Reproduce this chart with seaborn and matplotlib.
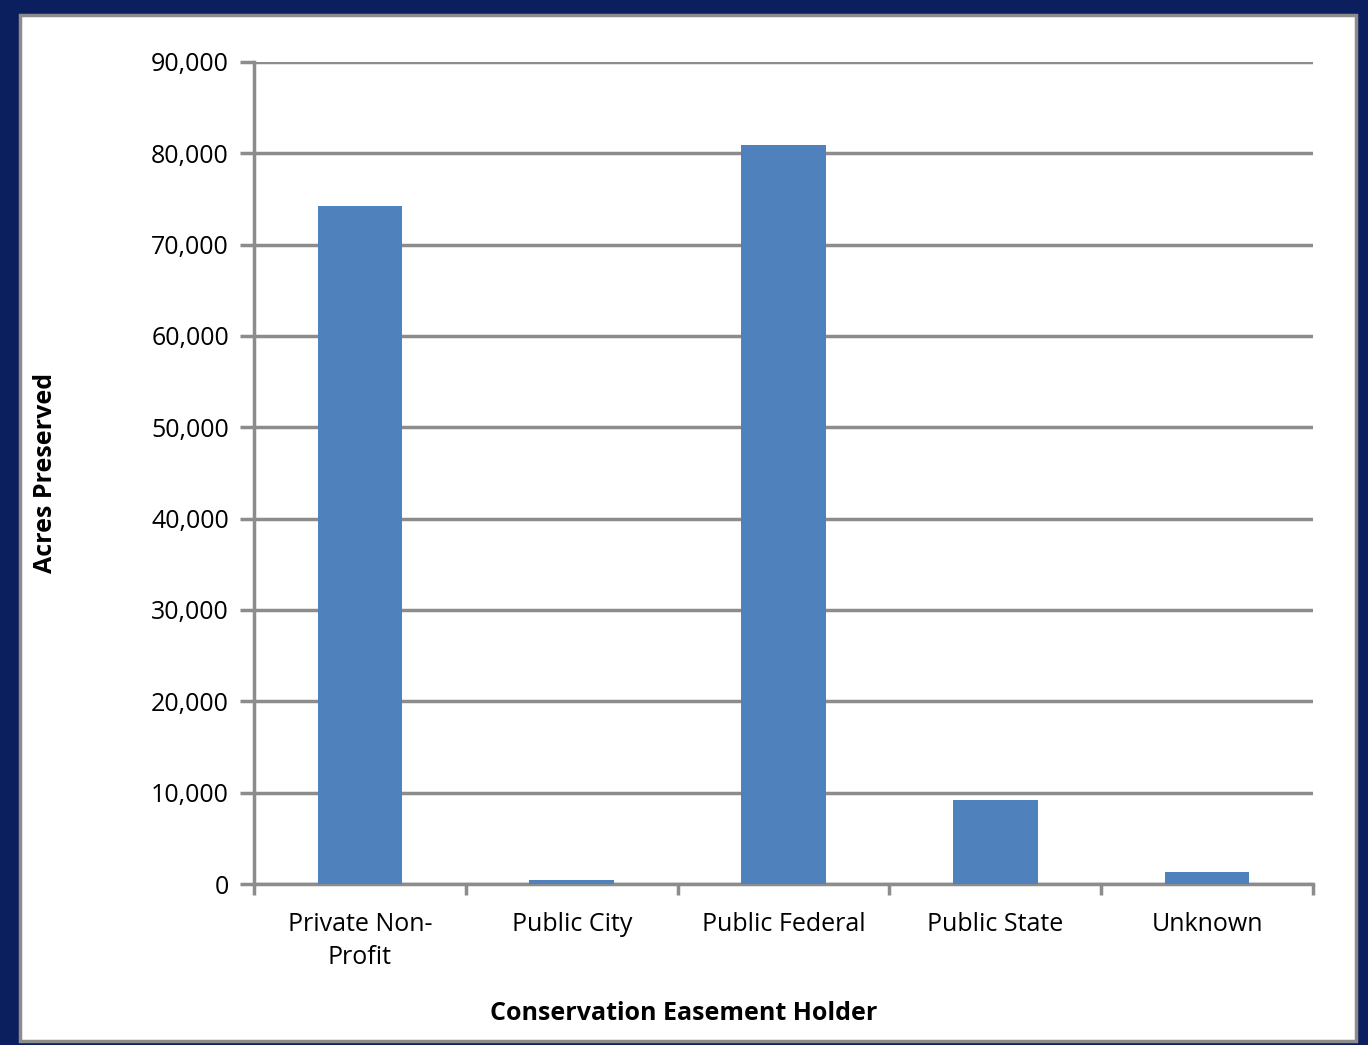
import matplotlib
matplotlib.use("Agg")
import matplotlib.pyplot as plt
import seaborn as sns
import pandas as pd
import numpy as np
from matplotlib.patches import Rectangle
from matplotlib.ticker import FuncFormatter, FixedLocator

holders = ["Private Non-\nProfit", "Public City", "Public Federal", "Public State", "Unknown"]
acres = [74200, 400, 80900, 9200, 1300]

df = pd.DataFrame({"holder": holders, "acres": acres})

sns.set_style("white")
plt.rcParams['font.family'] = ['Open Sans', 'DejaVu Sans']

fig = plt.figure(figsize=(13.68, 10.45), dpi=100)
fig.patch.set_facecolor("#0b1f5e")
fig.patches.append(Rectangle((20 / 1368, 1 - 1041 / 1045), 1336 / 1368, 1026 / 1045,
                             transform=fig.transFigure, facecolor="white",
                             edgecolor="#8c8c8c", linewidth=2.5, zorder=-10))

ax = fig.add_axes([254 / 1368, 1 - 884 / 1045, (1313 - 254) / 1368, (884 - 62) / 1045])
ax.set_facecolor("none")

sns.barplot(data=df, x="holder", y="acres", color="#4f81bd", saturation=1,
            width=0.4, linewidth=0, ax=ax, zorder=3)

ax.set_ylim(0, 90000)
ax.set_xlim(-0.5, 4.5)
ax.set_yticks(np.arange(0, 90001, 10000))
ax.yaxis.set_major_formatter(FuncFormatter(lambda v, p: f"{int(v):,}"))
ax.grid(axis="y", color="#8c8c8c", linewidth=2.5, zorder=0)
ax.set_axisbelow(True)

for s in ["top", "right"]:
    ax.spines[s].set_visible(False)
for s in ["left", "bottom"]:
    ax.spines[s].set_color("#8c8c8c")
    ax.spines[s].set_linewidth(2.5)

ax.tick_params(axis="y", which="major", length=10, width=2.5, color="#8c8c8c",
               labelsize=18, pad=8, left=True)
ax.tick_params(axis="x", which="major", length=0, labelsize=18, pad=20)
ax.xaxis.set_minor_locator(FixedLocator(np.arange(-0.5, 4.6, 1)))
ax.tick_params(axis="x", which="minor", length=8, width=2.5, color="#8c8c8c", bottom=True)
for lbl in ax.get_yticklabels() + ax.get_xticklabels():
    lbl.set_color("black")
for lbl in ax.get_xticklabels():
    lbl.set_linespacing(1.45)

ax.set_xlabel("Conservation Easement Holder", fontsize=18, fontweight="bold", color="black")
ax.xaxis.set_label_coords(0.406, -0.142)
ax.set_ylabel("Acres Preserved", fontsize=18, fontweight="bold", color="black")
ax.yaxis.set_label_coords(-0.185, 0.5)

fig.savefig("out.png", dpi=100, facecolor=fig.get_facecolor())
